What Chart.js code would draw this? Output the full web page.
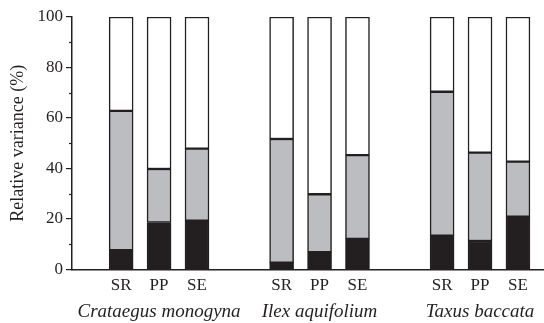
<!DOCTYPE html>
<html>
<head>
<meta charset="utf-8">
<script src="https://cdn.jsdelivr.net/npm/chart.js@4/dist/chart.umd.min.js"></script>
<style>
  html, body { margin: 0; padding: 0; background: #fff; }
  #wrap { width: 544px; height: 323px; }
</style>
</head>
<body>
<div id="wrap"><canvas id="c" width="544" height="323"></canvas></div>
<script>
// ---- data ----
const species = ['Crataegus monogyna', 'Ilex aquifolium', 'Taxus baccata'];
const components = ['SR', 'PP', 'SE'];
// percentages per bar, order: species x components
const blackPct = [7.7, 18.6, 19.3, 2.7, 6.9, 12.1, 13.4, 11.3, 20.9];
const greyPct  = [55.1, 21.2, 28.6, 49.0, 22.9, 33.2, 57.0, 35.0, 21.8];
const whitePct = [37.2, 60.2, 52.1, 48.3, 70.2, 54.7, 29.6, 53.7, 57.3];
const yTicks = [0, 20, 40, 60, 80, 100];
const yMinorTicks = [10, 30, 50, 70, 90];

// ---- layout of categories on a linear index axis ----
const GROUP_STEP = 4.23;   // distance between species groups (in bar slots)
const xPos = [];
species.forEach((s, g) => components.forEach((c, i) => xPos.push(g * GROUP_STEP + i)));
const groupCenters = species.map((s, g) => g * GROUP_STEP + 1);
const barLabels = xPos.map((x, k) => components[k % components.length]);

const INK = '#231f20';
const FONT = "'Liberation Serif', 'Times New Roman', serif";

function series(vals) { return vals.map((v, k) => ({ x: xPos[k], y: v })); }

const extras = {
  id: 'extras',
  afterDraw(chart) {
    const y = chart.scales.y, x = chart.scales.x, ctx = chart.ctx;
    ctx.save();
    // minor y ticks
    ctx.strokeStyle = INK;
    ctx.lineWidth = 1.2;
    yMinorTicks.forEach(v => {
      const py = Math.round(y.getPixelForValue(v)) + 0.5;
      ctx.beginPath();
      ctx.moveTo(y.right - 3, py);
      ctx.lineTo(y.right, py);
      ctx.stroke();
    });
    // species names under each group
    ctx.fillStyle = INK;
    ctx.font = "italic 19px " + FONT;
    ctx.textAlign = 'center';
    ctx.textBaseline = 'alphabetic';
    species.forEach((s, g) => {
      ctx.fillText(s, x.getPixelForValue(groupCenters[g]), 317);
    });
    ctx.restore();
  }
};

const common = { borderColor: INK, borderWidth: 1.5, borderSkipped: false, barThickness: 24 };

new Chart(document.getElementById('c'), {
  type: 'bar',
  data: {
    datasets: [
      Object.assign({ label: 'black', data: series(blackPct), backgroundColor: INK }, common),
      Object.assign({ label: 'grey', data: series(greyPct), backgroundColor: '#bcbdc0' }, common),
      Object.assign({ label: 'white', data: series(whitePct), backgroundColor: '#ffffff' }, common)
    ]
  },
  options: {
    responsive: false,
    animation: false,
    layout: { padding: { top: 17, right: 1, left: 0, bottom: 0 } },
    plugins: { legend: { display: false }, tooltip: { enabled: false } },
    scales: {
      x: {
        type: 'linear',
        stacked: true,
        offset: false,
        min: -1.295,
        max: 11.12,
        position: 'bottom',
        grid: { display: false, drawTicks: false, offset: false },
        border: { display: true, color: INK, width: 1.5 },
        afterBuildTicks: s => { s.ticks = xPos.map(v => ({ value: v })); },
        afterFit: s => { s.height = 53.5; },
        ticks: {
          autoSkip: false, maxRotation: 0, padding: 6,
          color: INK, font: { family: FONT, size: 17 },
          callback: (v, i) => barLabels[i]
        }
      },
      y: {
        stacked: true,
        min: 0,
        max: 100,
        afterBuildTicks: s => { s.ticks = yTicks.map(v => ({ value: v })); },
        afterFit: s => { s.width = 72; },
        grid: { drawOnChartArea: false, drawTicks: true, tickLength: 6, color: INK, lineWidth: 1.2 },
        border: { display: true, color: INK, width: 1.5 },
        ticks: { padding: 3, color: INK, font: { family: FONT, size: 17 } },
        title: {
          display: true, text: 'Relative variance (%)', color: INK,
          font: { family: FONT, size: 18 }, padding: { top: 7, bottom: 0 }
        }
      }
    }
  },
  plugins: [extras]
});
</script>
</body>
</html>
